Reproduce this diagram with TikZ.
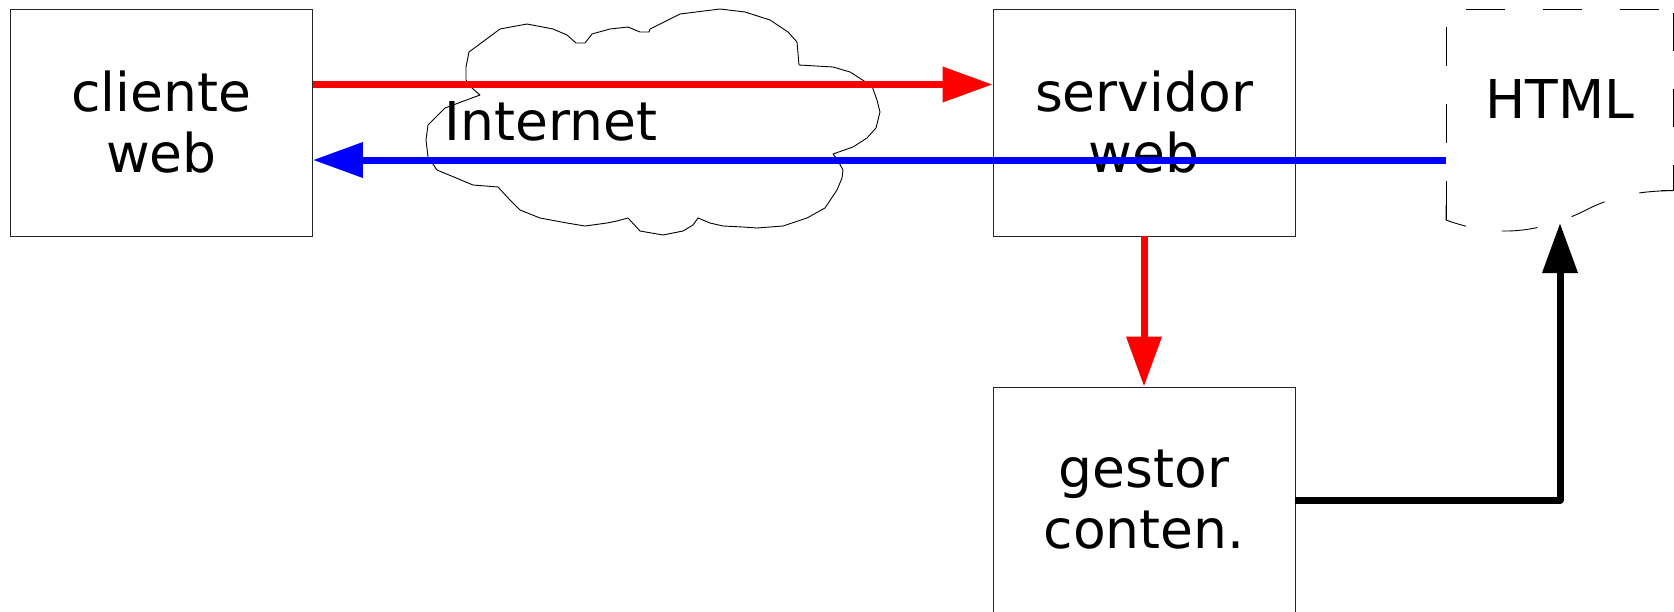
\documentclass[tikz,border=0pt]{standalone}
\usepackage{fontspec}
\setmainfont{DejaVu Sans}
\usetikzlibrary{arrows.meta}
\begin{document}
\begin{tikzpicture}[x=1pt,y=-1pt,
  box/.style={draw=black!85,line width=0.9pt,rectangle,inner sep=0pt,
    minimum width=302pt,minimum height=227pt,align=center,
    font=\fontsize{53.5}{61}\selectfont},
  lbl/.style={inner sep=0pt,font=\fontsize{53.5}{61}\selectfont},
  conn/.style={line width=7pt,-{Triangle[length=50pt,width=34pt]}},
  thin/.style={draw=black,line width=0.9pt}
]
\useasboundingbox (0,0) rectangle (1674,611);

% cloud
\draw[thin,line join=round] (469,52) -- (500,29) -- (527,24) -- (553,29) -- (567,35) -- (576,43) -- (585,43) -- (592,34)
 -- (610,29) -- (628,27) -- (640,32) -- (649,32) -- (650,29) -- (680,14) -- (720,9) -- (745,12) -- (770,20)
 -- (788,32) -- (797,42) -- (799,65) -- (833,67) -- (850,72) -- (872,86) -- (877,100) -- (880,112) -- (876,128)
 -- (867,138) -- (853,147) -- (833,154) -- (837,159) -- (843,170) -- (842,178) -- (837,190) -- (825,208)
 -- (807,218) -- (783,226) -- (757,228) -- (743,227) -- (723,226) -- (710,223) -- (698,218) -- (693,225)
 -- (683,231) -- (663,235) -- (640,231) -- (628,218) -- (617,221) -- (607,223) -- (585,226) -- (567,223)
 -- (540,218) -- (520,210) -- (510,200) -- (498,187) -- (473,185) -- (437,170) -- (428,157) -- (426,140)
 -- (428,125) -- (445,108) -- (480,95) -- (472,88) -- (466,80) -- (466,67) -- cycle;
\node[lbl] (internet) at (551,121) {Internet};

% boxes
\node[box] (cliente) at (161.5,122.5) {cliente\\web};
\node[box] (servidor) at (1144,122.5) {servidor\\web};
\node[box,minimum height=226pt] (gestor) at (1144,500) {gestor\\conten.};

% HTML document shape
\draw[thin,dash pattern=on 39pt off 38pt] (1446,220) -- (1446,9.3) -- (1673.3,9.3);
\draw[thin,dash pattern=on 38pt off 38pt] (1673.3,13) -- (1673.3,190.7) -- (1660,190.7);
\draw[thin,dash pattern=on 36pt off 36pt] (1446,205) -- (1446,220) .. controls (1495,238) and (1540,234) .. (1590,208)
  .. controls (1615,196) and (1640,190.7) .. (1673.3,190.7);
\node[lbl] (html) at (1560,99) {HTML};
\coordinate (htmlL) at (1446,160);
\coordinate (htmlB) at (1560,223);

% connectors
\draw[conn,red] ([yshift=38pt]cliente.east) -- ([yshift=38pt]servidor.west);
\draw[conn,blue] (htmlL) -- ([yshift=-37.5pt]cliente.east);
\draw[conn,red] (servidor.south) -- (gestor.north);
\draw[conn,black,line join=round] (gestor.east) -| (htmlB);
\end{tikzpicture}
\end{document}
